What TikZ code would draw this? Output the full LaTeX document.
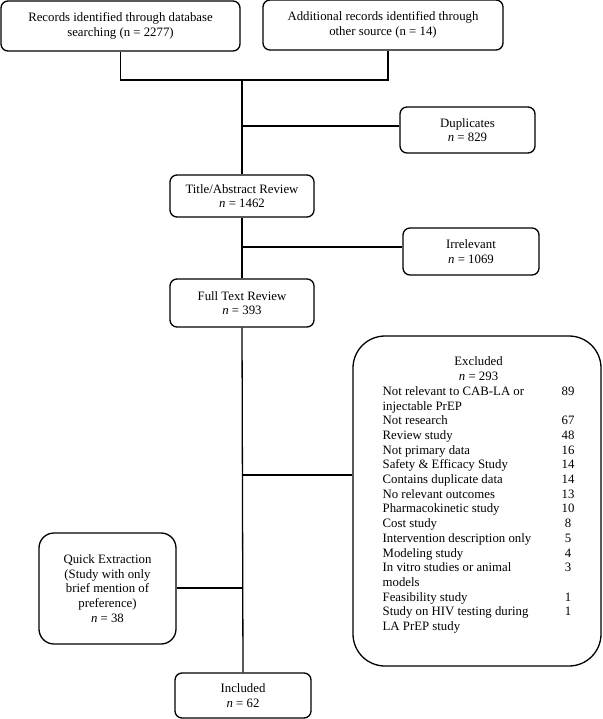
\documentclass[tikz,border=0pt]{standalone}
\usepackage{fontspec}
\setmainfont{Liberation Serif}
\usetikzlibrary{calc}

\begin{document}
\begin{tikzpicture}[x=1pt, y=-1pt, line width=1.3pt,
    box/.style={draw, rounded corners=7pt, align=center, inner sep=0pt, font=\fontsize{12.8}{14.7}\selectfont}]
    \useasboundingbox (0,0) rectangle (602,719);

    \node[box, minimum width=239, minimum height=50] (rec) at (120.5,26) {Records identified through database\\searching (n = 2277)};
    \node[box, minimum width=240, minimum height=50] (add) at (383,25) {Additional records identified through\\other source (n = 14)};

    \node[box, minimum width=135, minimum height=46] (dup) at (467.5,130) {Duplicates\\\textit{n} = 829};
    \node[box, minimum width=144, minimum height=42] (title) at (242,196) {Title/Abstract Review\\\textit{n} = 1462};
    \node[box, minimum width=136, minimum height=47] (irr) at (471,251.5) {Irrelevant\\\textit{n} = 1069};
    \node[box, minimum width=144, minimum height=48] (full) at (242,303) {Full Text Review\\\textit{n} = 393};

    \node[box, rounded corners=32pt, minimum width=248, minimum height=330] (excl) at (477,501) {};
    \node[anchor=north west, inner sep=0pt, font=\fontsize{12.8}{14.7}\selectfont] (excllist) at (382,355) {%
        \begin{tabular}{@{}p{179pt}@{}c@{}}
            \multicolumn{2}{@{}c@{}}{Excluded}\\
            \multicolumn{2}{@{}c@{}}{\textit{n} = 293}\\
            Not relevant to CAB-LA or & 89\\
            injectable PrEP & \\
            Not research & 67\\
            Review study & 48\\
            Not primary data & 16\\
            Safety \& Efficacy Study & 14\\
            Contains duplicate data & 14\\
            No relevant outcomes & 13\\
            Pharmacokinetic study & 10\\
            Cost study & 8\\
            Intervention description only & 5\\
            Modeling study & 4\\
            In vitro studies or animal & 3\\
            models & \\
            Feasibility study & 1\\
            Study on HIV testing during & 1\\
            LA PrEP study &
        \end{tabular}};

    \node[box, rounded corners=15pt, minimum width=137, minimum height=111] (quick) at (107.5,588.5) {Quick Extraction\\(Study with only\\brief mention of\\preference)\\\textit{n} = 38};
    \node[box, minimum width=136, minimum height=45] (incl) at (243,695.5) {Included\\\textit{n} = 62};

    % merge of the two sources
    \coordinate (join) at (242,80);
    \draw (rec.south) |- (join) -| ([xshift=5pt]add.south);

    % main line
    \draw (join) -- (title.north);
    \draw (title.south) -- (full.north);
    \draw (full.south) -- (incl.north);

    % side branches
    \coordinate (b1) at (242,126);
    \coordinate (b2) at (242,247);
    \coordinate (b3) at (242,475);
    \coordinate (b4) at (242,588);
    \draw (b1) -- (b1 -| dup.west);
    \draw (b2) -- (b2 -| irr.west);
    \draw (b3) -- (b3 -| excl.west);
    \draw (b4) -- (b4 -| quick.east);
\end{tikzpicture}
\end{document}
